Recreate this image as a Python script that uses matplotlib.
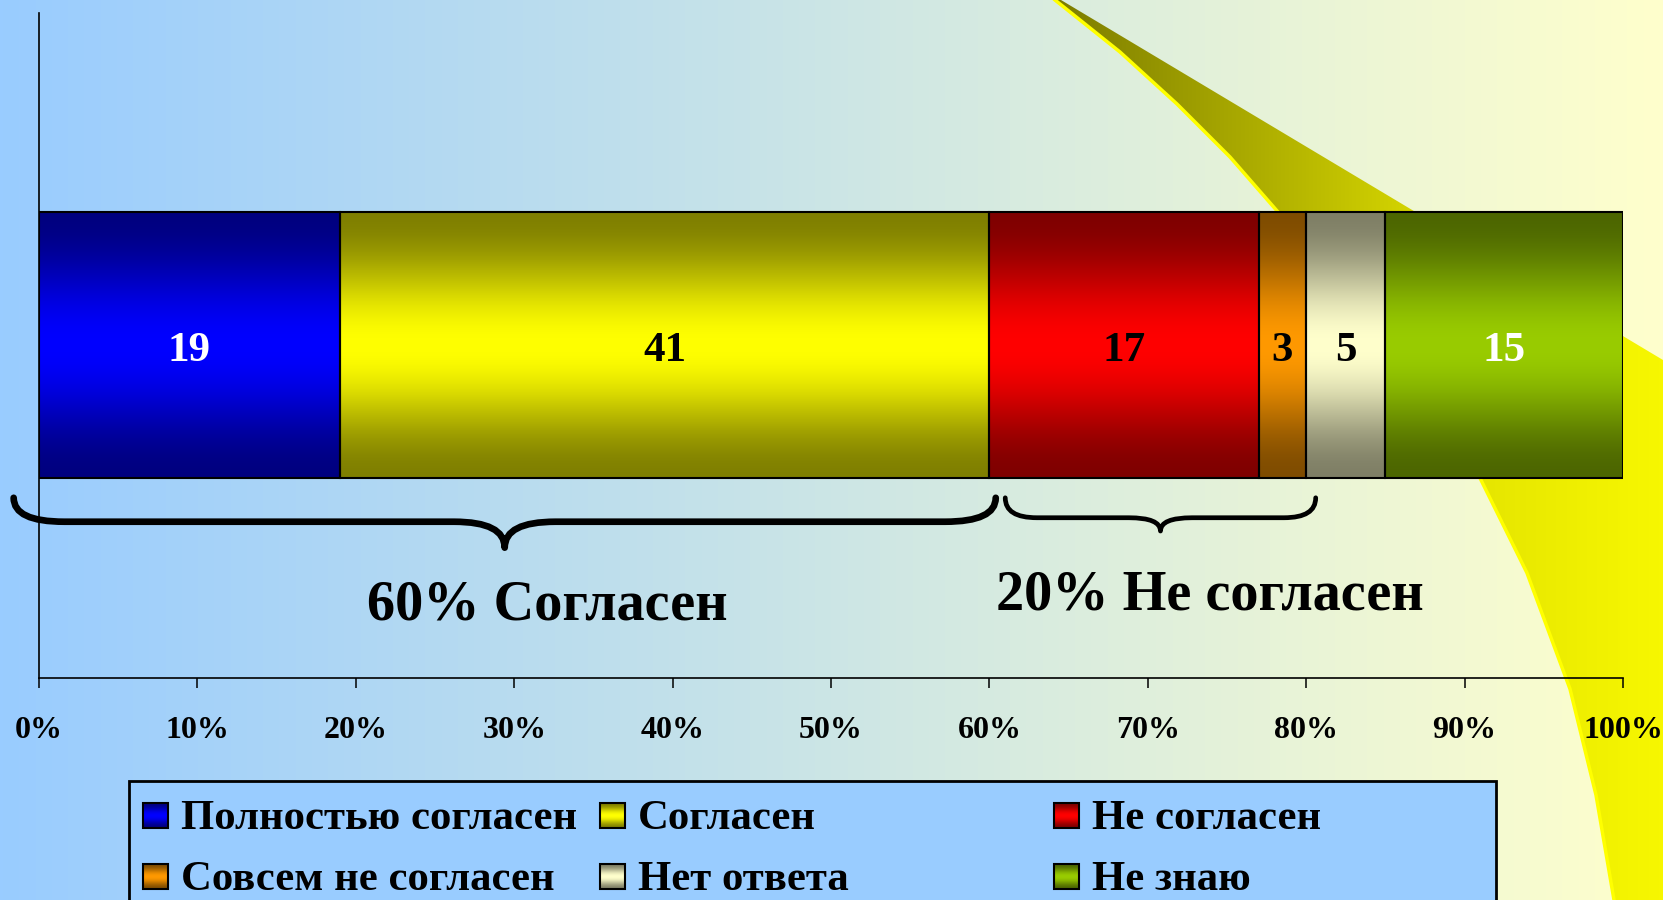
import numpy as np
import matplotlib.pyplot as plt
from matplotlib.path import Path
from matplotlib.patches import PathPatch, Rectangle, Polygon
from matplotlib.colors import to_rgb

# survey answers, percent
labels = ['Полностью согласен', 'Согласен', 'Не согласен',
          'Совсем не согласен', 'Нет ответа', 'Не знаю']
values = [19, 41, 17, 3, 5, 15]
colors = ['#0000FF', '#FFFF00', '#FF0000', '#FF9900', '#FFFFCC', '#99CC00']
value_colors = ['white', 'black', 'black', 'black', 'black', 'white']
xticks = [0, 10, 20, 30, 40, 50, 60, 70, 80, 90, 100]
xtick_labels = ['0%', '10%', '20%', '30%', '40%', '50%', '60%', '70%', '80%', '90%', '100%']
group_text = ['60% Согласен', '20% Не согласен']
group_parts = [[0, 1], [2, 3]]

W, H = 1663, 900
font = 'Liberation Serif'
plt.rcParams['font.family'] = [font, 'DejaVu Serif']
plt.rcParams['font.weight'] = 'bold'


def vgrad(color, n=256):
    # dark at top and bottom, bright in the middle
    t = np.linspace(0, 1, n)
    f = 0.5 + 0.5 * np.sin(np.pi * t) ** 2
    c = np.array(to_rgb(color))
    return (f[:, None] * c[None, :])[:, None, :]


fig = plt.figure(figsize=(W / 100, H / 100), dpi=100)

# background layer in pixel coordinates
bg = fig.add_axes([0, 0, 1, 1], zorder=0)
bg.axis('off')
xs = np.linspace(0, 1, 512)
left_c = np.array([0.60, 0.80, 1.00])
right_c = np.array([1.00, 1.00, 0.80])
grad = (1 - xs)[:, None] * left_c + xs[:, None] * right_c
bg.imshow(grad[None, :, :], extent=[0, W, H, 0], aspect='auto', zorder=0)

# yellow swoosh
edge = [(1055, 0), (1120, 52), (1177, 104), (1230, 157), (1278, 212), (1330, 272),
        (1380, 338), (1430, 405), (1480, 478), (1527, 573), (1570, 689), (1596, 795),
        (1614, 900)]
swoosh = Polygon(edge + [(W, H), (W, 360), (1061, 0)], closed=True,
                 facecolor='none', edgecolor='none')
bg.add_patch(swoosh)
px = np.arange(1000, W + 1)
f = np.interp(px, [1050, 1300, 1480, 1663], [0.48, 0.72, 0.90, 0.97])
sw = f[:, None] * np.array([1.0, 1.0, 0.0])
im = bg.imshow(sw[None, :, :], extent=[1000, W, H, 0], aspect='auto', zorder=1)
im.set_clip_path(swoosh)
ex, ey = zip(*edge)
bg.plot(ex, ey, color='#FFFF00', lw=2.5, zorder=2)

# legend box, drawn by hand (Excel style, equal column widths)
bg.add_patch(Rectangle((129, 781), 1367, 160, facecolor='#99CCFF',
                       edgecolor='black', lw=2, zorder=3))
col_x = [143, 600, 1054]
row_y = [815, 876]
for i, (lab, col) in enumerate(zip(labels, colors)):
    cx = col_x[i % 3]
    cy = row_y[i // 3]
    sq = Rectangle((cx, cy - 12), 25, 25, facecolor=col, edgecolor='black', lw=1.5, zorder=5)
    bg.add_patch(sq)
    g = bg.imshow(vgrad(col), extent=[cx, cx + 25, cy + 13, cy - 12], aspect='auto', zorder=4)
    g.set_clip_path(sq)
    sq.set_facecolor('none')
    bg.text(cx + 38, cy + 4, lab, fontsize=30.8, fontweight='bold', va='center', ha='left', zorder=5)

bg.set_xlim(0, W)
bg.set_ylim(H, 0)

# main chart
ax = fig.add_axes([39 / W, 1 - 678 / H, (1623 - 39) / W, (678 - 13) / H], zorder=1)
ax.patch.set_alpha(0)
lefts = np.concatenate([[0], np.cumsum(values)[:-1]])
bars = ax.barh(0.5, values, left=lefts, height=0.4, color=colors,
               edgecolor='black', linewidth=1.5, zorder=3)
for b, col in zip(bars, colors):
    x0, y0 = b.get_x(), b.get_y()
    g = ax.imshow(vgrad(col), extent=[x0, x0 + b.get_width(), y0, y0 + b.get_height()],
                  aspect='auto', origin='upper', zorder=2)
    g.set_clip_path(b)
    b.set_facecolor('none')
for b, v, tc in zip(bars, values, value_colors):
    ax.text(b.get_x() + b.get_width() / 2, 0.491, str(v), ha='center', va='center',
            fontsize=31, fontweight='bold', color=tc, zorder=4)

ax.set_xlim(0, 100)
ax.set_ylim(0, 1)
ax.set_xticks(xticks)
ax.set_xticklabels(xtick_labels, fontsize=23, fontweight='bold')
ax.set_yticks([])
ax.tick_params(axis='x', direction='out', length=7, width=1.1, pad=20)
for s in ['top', 'right']:
    ax.spines[s].set_visible(False)
for s in ['left', 'bottom']:
    ax.spines[s].set_linewidth(1.2)


def brace(x0, x1, xm, ye, yl, yt, r, lw):
    verts = [(x0, ye), (x0, yl), (x0 + r, yl), (xm - r, yl),
             (xm, yl), (xm, yt), (xm, yl), (xm + r, yl),
             (x1 - r, yl), (x1, yl), (x1, ye)]
    codes = [Path.MOVETO, Path.CURVE3, Path.CURVE3, Path.LINETO,
             Path.CURVE3, Path.CURVE3, Path.CURVE3, Path.CURVE3,
             Path.LINETO, Path.CURVE3, Path.CURVE3]
    ax.add_patch(PathPatch(Path(verts, codes), facecolor='none', edgecolor='black',
                           lw=lw, capstyle='round', joinstyle='round',
                           transform=ax.get_xaxis_transform(), clip_on=False, zorder=3))


# left group brace and label
g0 = sum(values[i] for i in group_parts[0])
brace(-1.6, g0 + 0.4, 29.4, 0.271, 0.235, 0.196, 3.2, 4.8)
ax.text(32.1, 0.109, group_text[0], ha='center', va='center', fontsize=40.5,
        fontweight='bold', transform=ax.get_xaxis_transform())
g1 = sum(values[i] for i in group_parts[1])
brace(g0 + 1.0, g0 + g1 + 0.6, 70.8, 0.271, 0.241, 0.221, 2.0, 3.4)
ax.text(73.9, 0.124, group_text[1], ha='center', va='center', fontsize=40.5,
        fontweight='bold', transform=ax.get_xaxis_transform())

fig.savefig('out.png', dpi=100)
